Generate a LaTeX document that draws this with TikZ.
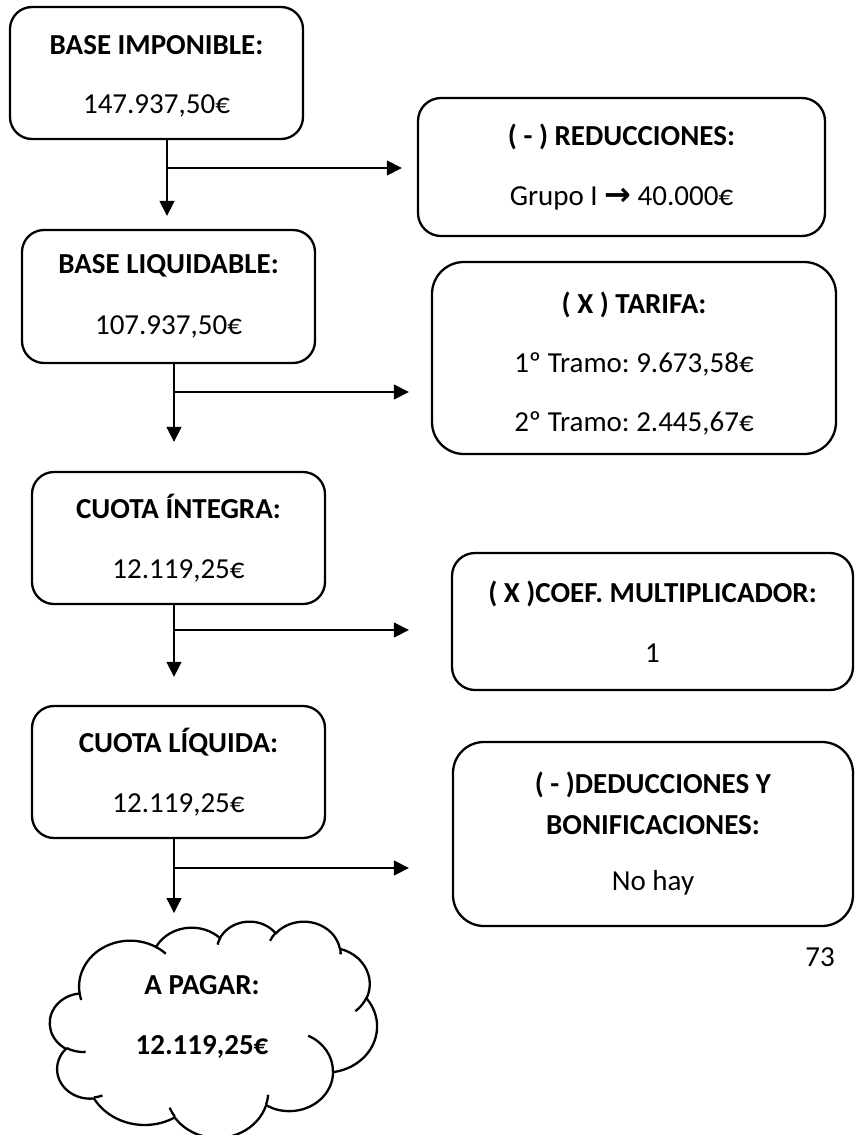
\documentclass[tikz,border=0pt]{standalone}
\usepackage{fontspec}
\setmainfont{Carlito}
\newfontfamily\arrowfont{DejaVu Sans}
\usetikzlibrary{arrows.meta}
\frenchspacing
% scale of the cloud outline (43200 units wide/high)
\def\cx{0.0075694}
\def\cy{0.005}
% same scale for positions written in hundreds of units
\def\px{0.75694}
\def\py{0.5}
\begin{document}
\begin{tikzpicture}[x=1pt,y=-1pt,
  txt/.style={font=\fontsize{29}{40.5}\selectfont, align=center},
  panel/.style={txt, draw, line width=2.3pt, rounded corners=#1, inner sep=0pt},
  arr/.style={line width=1.3pt, -{Triangle[length=15pt,width=15pt]}},
  outline/.style={line width=2.3pt},
  % elliptical arc given by radii, start angle and sweep (visual angles, y down)
  oa/.style n args={4}{
    x radius={#1*\cx*1pt}, y radius={#2*\cy*1pt},
    start angle={-atan2(#1*sin(#3),#2*cos(#3))},
    delta angle={-mod(atan2(#1*sin(#3+#4),#2*cos(#3+#4))-atan2(#1*sin(#3),#2*cos(#3))+720,360)}}
]
\useasboundingbox (0,0) rectangle (854,1135);

% left column
\node[panel=22pt, minimum width=293pt, minimum height=132pt] (bi) at (156.5,73)
  {\rule{0pt}{26pt}\textbf{BASE IMPONIBLE:}\\[19pt]147.937,50€};
\node[panel=22pt, minimum width=293pt, minimum height=133pt] (bl) at (168.5,296.5)
  {\textbf{BASE LIQUIDABLE:}\\[20pt]107.937,50€};
\node[panel=22pt, minimum width=293pt, minimum height=132pt] (ci) at (178.5,538)
  {\textbf{CUOTA ÍNTEGRA:}\\[19pt]12.119,25€};
\node[panel=22pt, minimum width=293pt, minimum height=132pt] (cl) at (178.5,772)
  {\textbf{CUOTA LÍQUIDA:}\\[19pt]12.119,25€};

% right column
\node[panel=23pt, minimum width=407pt, minimum height=138pt] (red) at (621.5,167)
  {\textbf{( - ) REDUCCIONES:}\\[19pt]Grupo I {\arrowfont\bfseries\fontsize{32}{40}\selectfont →} 40.000€};
\node[panel=32pt, minimum width=404pt, minimum height=192pt] (tar) at (634,358)
  {\rule{0pt}{32pt}\textbf{( X ) TARIFA:}\\[18.5pt]1º Tramo: 9.673,58€\\[18.5pt]2º Tramo: 2.445,67€};
\node[panel=23pt, minimum width=401pt, minimum height=137pt] (coef) at (652.5,621.5)
  {\textbf{( X )COEF. MULTIPLICADOR:}\\[19pt]1};
\node[panel=31pt, minimum width=400pt, minimum height=184pt] (ded) at (653,834)
  {\textbf{( - )DEDUCCIONES Y}\\\textbf{BONIFICACIONES:}\\[16pt]No hay};

% cloud outline
\draw[outline, fill=white] ({50+39.00*\px},{921+143.70*\py})
  arc[oa={6753}{9190}{-190.4875}{123.7805}]
  arc[oa={5333}{7267}{-144.1024}{89.9452}]
  arc[oa={4365}{5945}{-145.8079}{99.7230}]
  arc[oa={4857}{6595}{-130.9861}{117.2417}]
  arc[oa={5333}{7273}{-78.7089}{109.0269}]
  arc[oa={6775}{9220}{-46.2673}{130.2690}]
  arc[oa={5785}{7867}{0.6250}{114.0333}]
  arc[oa={6752}{9215}{22.4516}{115.1726}]
  arc[oa={7720}{10543}{66.2426}{75.7110}]
  arc[oa={4360}{5918}{-274.9421}{146.7356}]
  arc[oa={4345}{5945}{-246.8285}{152.5189}]
  -- cycle;
% inner folds of the cloud
\draw[outline]
  ({50+46.93*\px},{921+261.77*\py}) arc[oa={4345}{5945}{86.7420}{26.4295}]
  ({50+69.28*\px},{921+348.99*\py}) arc[oa={4360}{5918}{73.6105}{11.4475}]
  ({50+164.78*\px},{921+390.90*\py}) arc[oa={6752}{9215}{137.6242}{14.0811}]
  ({50+288.27*\px},{921+347.51*\py}) arc[oa={6752}{9215}{6.4533}{15.9984}]
  ({50+341.29*\px},{921+229.54*\py}) arc[oa={5785}{7867}{-70.2924}{70.9174}]
  ({50+417.98*\px},{921+153.54*\py}) arc[oa={5333}{7273}{30.3180}{27.7515}]
  ({50+383.24*\px},{921+54.26*\py}) arc[oa={4857}{6595}{-13.7443}{14.8589}]
  ({50+290.78*\px},{921+39.52*\py}) arc[oa={4857}{6595}{-149.1815}{18.1954}]
  ({50+221.41*\px},{921+47.20*\py}) arc[oa={4365}{5945}{-163.4943}{17.6864}]
  ({50+140.00*\px},{921+51.92*\py}) arc[oa={6753}{9190}{-66.7070}{12.3194}]
  ({50+41.27*\px},{921+157.89*\py}) arc[oa={6753}{9190}{157.6544}{11.8582}];
\node[txt] (pay) at (202,1017) {\textbf{A PAGAR:}\\[19pt]\textbf{12.119,25€}};
\coordinate (cloudin) at (174,913);

% page number
\node[txt] (pg) at (820,957) {73};

% connectors: each step goes down to the next and branches right
\coordinate (j1) at (167,168);
\coordinate (j2) at (174,392);
\coordinate (j3) at (174,630);
\coordinate (j4) at (174,868);
\draw[arr, shorten >=13pt] (bi.south -| j1) -- (bl.north -| j1);
\draw[arr, shorten >=15pt] (j1) -- (red.west |- j1);
\draw[arr, shorten >=29pt] (bl.south -| j2) -- (ci.north -| j2);
\draw[arr, shorten >=22pt] (j2) -- (tar.west |- j2);
\draw[arr, shorten >=28pt] (ci.south -| j3) -- (cl.north -| j3);
\draw[arr, shorten >=42pt] (j3) -- (coef.west |- j3);
\draw[arr] (cl.south -| j4) -- (cloudin);
\draw[arr, shorten >=43pt] (j4) -- (ded.west |- j4);
\end{tikzpicture}
\end{document}
